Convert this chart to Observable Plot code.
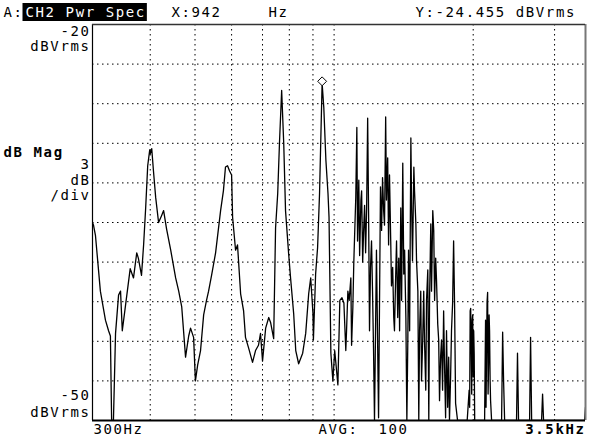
<!DOCTYPE html>
<html>
<head>
<meta charset="utf-8">
<script src="https://cdn.jsdelivr.net/npm/d3@7"></script>
<script src="https://cdn.jsdelivr.net/npm/@observablehq/plot@0.6"></script>
<style>
  html, body { margin: 0; padding: 0; background: #fff; }
  #chart { width: 599px; height: 440px; }
</style>
</head>
<body>
<div id="chart"></div>
<script>
// Frequency (Hz) of each trace point
const freq = [300,301.5,304.5,312,320,325,328,330,333,336.5,
  341.6,345,348,353.6,362,368,374,377,383,387,
  391,395,399,400,403,406.5,411,417,423,427.6,
  434,443,454,461,468,477,484.5,489,496.5,501,
  506.6,514,522,529.5,535,543,554,568,576,582,
  588,594,600,603,612,618,627.6,637,643,653,
  666,676,686,693,700,711,722,729,740,747,
  755,762,770,778,785,797,805,817.5,826,838,
  855,868,881,890,900,902,912,921,930,942,
  950,960,970,975,984,994,1003,1019,1029,1040,
  1050,1060,1071,1087,1098,1103,1114,1120,1131,1143,
  1158,1170,1176,1182,1188,1199,1211,1217,1223,1235,
  1248,1260,1273,1280,1293,1306,1326,1339,1346,1360,
  1373,1380,1394,1408,1415,1430,1437,1444,1466,1488,
  1503,1518,1525,1540,1555,1563,1579,1595,1603,1619,
  1635,1643,1659,1676,1684,1700,1717,1726,1743,1761,
  1770,1787,1805,1814,1823,1832,1850,1941,1960,1970,
  1980,1990,2000,2005,2015,2117,2127,2138,2149,2160,
  2170,2181,2192,2304,2316,2327,2339,2482,2494,2507,
  2649,2662,2676,2812,2826,2840,3483,3500];

// Magnitude (dBVrms) of each trace point
const mag = [-35.0,-35.2,-36.0,-40.2,-42.4,-43.2,-43.6,-50,-50,-43.4,
  -40.5,-40.2,-43.2,-41.3,-38.5,-39.2,-37.3,-37.7,-39.0,-36.7,
  -33.9,-30.7,-29.5,-29.8,-29.4,-31.1,-33.1,-35.0,-34.5,-34.1,
  -35.5,-37.1,-39.2,-40.2,-41.4,-45.2,-43.6,-43.0,-43.7,-47.0,
  -45.8,-44.7,-42.0,-40.9,-40.2,-39.0,-37.3,-34.1,-32.6,-30.8,
  -30.7,-31.1,-31.4,-34.6,-37.1,-36.7,-40.4,-41.7,-43.7,-44.5,
  -45.6,-44.7,-44.3,-43.4,-45.5,-43.0,-42.2,-42.6,-43.8,-35.4,
  -32.8,-28.8,-25.0,-29.0,-34.1,-37.3,-39.2,-41.9,-44.7,-45.7,
  -44.9,-43.4,-40.4,-39.2,-41.9,-43.9,-38.9,-36.9,-32.8,-24.455,
  -26.3,-30.3,-32.8,-34.6,-44.9,-47.0,-44.7,-47.3,-40.9,-40.7,
  -41.1,-44.7,-40.2,-39.2,-41.4,-38.1,-33.1,-27.8,-31.8,-33.3,
  -35.8,-37.3,-33.9,-27.1,-35.1,-38.4,-40.2,-44.5,-50,-37.1,
  -49.8,-32.3,-31.6,-34.1,-27.0,-30.1,-36.4,-38.4,-42.2,-38.6,
  -42.2,-37.7,-33.9,-30.5,-38.9,-42.2,-50,-43.9,-28.6,-30.8,
  -35.1,-40.2,-50,-40.2,-43.9,-40.2,-47.7,-38.6,-50,-35.1,
  -34.1,-35.6,-37.7,-42.7,-43.9,-45.2,-47.7,-41.7,-49.8,-49.0,
  -45.2,-46.7,-41.1,-36.4,-41.4,-48.7,-50,-50,-47.7,-41.7,
  -44.4,-42.4,-46.7,-43.2,-50,-50,-42.4,-44.7,-40.3,-45.5,
  -43.2,-48.5,-50,-50,-43.3,-47.0,-50,-50,-44.9,-50,
  -50,-43.7,-50,-50,-48.0,-50,-50,-49.0];

// Extra readings inside the dense (noisy) part of the trace
const freqDense = [1064,1078,1091,1124,1135.6,1147,1153,1164,1193,1205,
  1267,1285.6,1298,1312,1318,1331,1351,1365,1386,1400,
  1421,1449,1457,1471,1478,1493,1508,1531,1546,1569,
  1585,1609,1625,1650,1666,1691,1708,1733,1751,1777,
  1795,1965,1975,1985,1995,2010,2132,2143,2154,2165,2176];
const magDense = [-43.2,-40.9,-44.3,-36.4,-37.5,-32.6,-38.0,-33.7,-43.2,-36.4,
  -35.6,-35.2,-33.3,-36.7,-31.4,-39.8,-43.2,-36.4,-43.2,-40.9,
  -37.1,-37.1,-43.2,-33.3,-37.9,-32.6,-37.9,-43.2,-47.0,-43.9,
  -40.9,-40.9,-40.2,-40.9,-39.4,-48.5,-43.9,-45.5,-43.2,-50,
  -43.2,-49.0,-41.5,-48.0,-42.0,-45.0,-49.0,-41.0,-48.0,-42.0,-47.0];

// Axis / grid values
const xDomain = [300, 3500];
const yDomain = [-50, -20];
const xGrid = [400, 500, 600, 700, 800, 900, 1000, 2000, 3000];
const yGrid = [-23, -26, -29, -32, -35, -38, -41, -44, -47];

// Marker readout
const markerFreq = [942];
const markerMag = [-24.455];

if (freq.length !== mag.length) throw new Error("length mismatch " + freq.length + " " + mag.length);
if (freqDense.length !== magDense.length) throw new Error("dense length mismatch " + freqDense.length + " " + magDense.length);

const trace = freq.map((f, i) => ({f, db: mag[i]}))
  .concat(freqDense.map((f, i) => ({f, db: magDense[i]})))
  .sort((a, b) => a.f - b.f);
const marker = markerFreq.map((f, i) => ({f, db: markerMag[i]}));

const FONT = "'DejaVu Sans Mono', 'Liberation Mono', monospace";

function lab(str, anchor, dx, dy, textAnchor, extra = {}) {
  return Plot.text([str], Object.assign({
    text: d => d, frameAnchor: anchor, dx, dy, textAnchor,
    lineAnchor: "middle", fill: "black"
  }, extra));
}

const plot = Plot.plot({
  width: 599, height: 440,
  marginLeft: 92, marginRight: 14, marginTop: 24, marginBottom: 20,
  x: {type: "log", domain: xDomain, axis: null},
  y: {domain: yDomain, axis: null},
  style: {fontFamily: FONT, fontSize: "14px", letterSpacing: "1.6px", background: "white", overflow: "visible"},
  marks: [
    Plot.ruleY(yGrid, {stroke: "black", strokeDasharray: "1.5,3.5", strokeWidth: 1}),
    Plot.ruleX(xGrid, {stroke: "black", strokeDasharray: "1.5,3.5", strokeWidth: 1}),
    Plot.line(trace, {x: "f", y: "db", stroke: "black", strokeWidth: 1.3, clip: true}),
    Plot.dot(marker, {x: "f", y: "db", symbol: "diamond2", r: 4, stroke: "black", strokeWidth: 1, fill: "white", dy: -2}),
    // frame
    Plot.ruleX([xDomain[0]], {stroke: "black", strokeWidth: 1.2}),
    Plot.ruleX([xDomain[1]], {stroke: "#777", strokeWidth: 2}),
    Plot.ruleY([yDomain[1]], {stroke: "#333", strokeWidth: 1.5}),
    Plot.ruleY([yDomain[0]], {stroke: "black", strokeWidth: 2}),
    // header
    lab("A:", "top-left", -89, -12, "start"),
    lab("CH2 Pwr Spec", "top-left", -67, -12, "start", {fill: "white"}),
    lab("X:942", "top-left", 79, -12, "start"),
    lab("Hz", "top-left", 176, -12, "start"),
    lab("Y:-24.455 dBVrms", "top-left", 323, -12, "start"),
    // left labels
    lab("-20", "top-left", -2, 7, "end"),
    lab("dBVrms", "top-left", -2, 22, "end"),
    lab("dB Mag", "top-left", -89, 128, "start", {fontWeight: "bold"}),
    lab("3", "top-left", -2, 140, "end"),
    lab("dB", "top-left", -2, 156, "end"),
    lab("/div", "top-left", -2, 171, "end"),
    lab("-50", "bottom-left", -2, -25, "end"),
    lab("dBVrms", "bottom-left", -2, -8, "end"),
    // bottom labels
    lab("300Hz", "bottom-left", 1, 9, "start"),
    lab("AVG:", "bottom-left", 226, 9, "start"),
    lab("100", "bottom-left", 286, 9, "start"),
    lab("3.5kHz", "bottom-right", 0, 9, "end", {fontWeight: "bold"})
  ]
});

document.getElementById("chart").appendChild(plot);

// black box behind the channel title
const svg = plot;
const t = Array.from(svg.querySelectorAll("text")).find(n => n.textContent === "CH2 Pwr Spec");
if (t) {
  const sr = svg.getBoundingClientRect();
  const br = t.getBoundingClientRect();
  let g = t;
  while (g.parentNode && g.parentNode !== svg) g = g.parentNode;
  const rect = document.createElementNS("http://www.w3.org/2000/svg", "rect");
  rect.setAttribute("x", br.left - sr.left - 3);
  rect.setAttribute("y", 3);
  rect.setAttribute("width", br.width + 4);
  rect.setAttribute("height", 18);
  rect.setAttribute("fill", "black");
  svg.insertBefore(rect, g);
}
</script>
</body>
</html>
